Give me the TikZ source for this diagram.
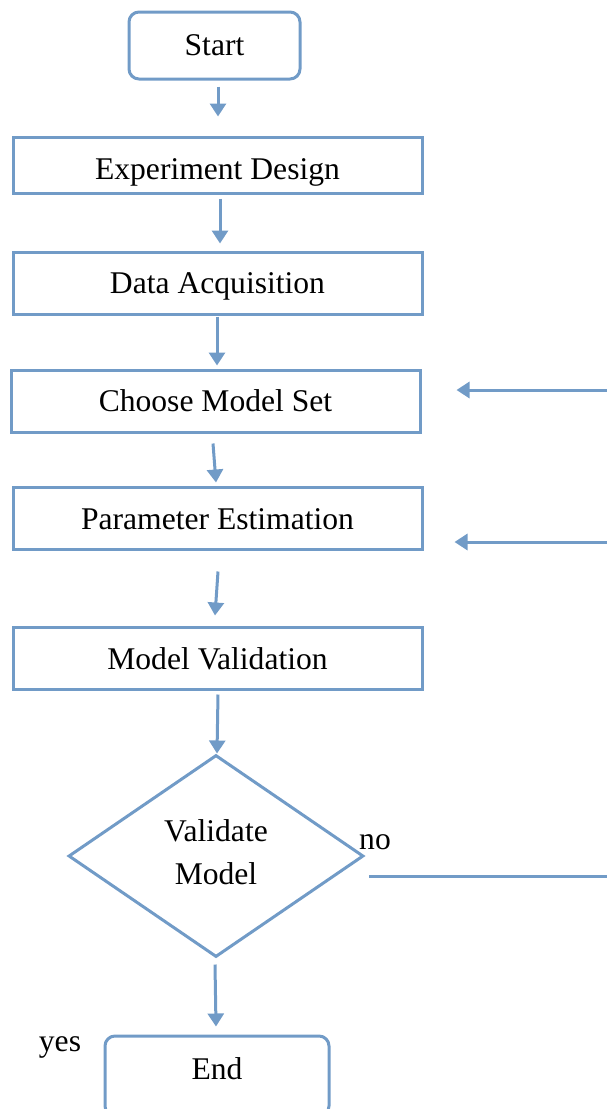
\documentclass[tikz,border=0pt]{standalone}
\usepackage{fontspec}
\setmainfont{Liberation Serif}
\usetikzlibrary{arrows.meta,shapes.geometric}
\definecolor{flowblue}{RGB}{113,155,199}
\begin{document}
\begin{tikzpicture}[x=1pt,y=-1pt,
  every node/.style={font=\fontsize{31.6}{36}\selectfont, text=black},
  procbox/.style={draw=flowblue, line width=3pt, rectangle, inner sep=0pt, minimum width=409pt, minimum height=62pt, text height=22pt, text depth=7pt},
  termbox/.style={draw=flowblue, line width=3pt, rectangle, rounded corners=10pt, inner sep=0pt, text height=22pt, text depth=7pt},
  decbox/.style={draw=flowblue, line width=3pt, diamond, inner sep=0pt, minimum width=295pt, minimum height=202pt, align=center, text height=65pt, text depth=9pt},
  flowarrow/.style={draw=flowblue, line width=3pt, -{Triangle[length=13pt,width=16pt]}},
  flowline/.style={draw=flowblue, line width=3pt},
  plainlabel/.style={inner sep=0pt}
]
\path[use as bounding box] (0,0) rectangle (607,1109);
\clip (0,0) rectangle (607,1109);

\node[termbox, minimum width=171pt, minimum height=67pt] (start) at (214.5,45.5) {\raisebox{-2pt}{Start}};
\node[procbox, minimum height=56pt] (exp) at (217.5,165) {\raisebox{-7pt}{Experiment Design}};
\node[procbox] (data) at (217.5,283) {\raisebox{-3pt}{Data Acquisition}};
\node[procbox] (choose) at (215.5,401) {\raisebox{-2.5pt}{Choose Model Set}};
\node[procbox] (param) at (217.5,518) {\raisebox{-3.5pt}{Parameter Estimation}};
\node[procbox] (modval) at (217.5,658) {\raisebox{-3.5pt}{Model Validation}};
\node[decbox] (valid) at (216,856) {Validate\\[7pt]Model};
\node[termbox, minimum width=224pt, minimum height=80pt] (end) at (217,1076) {\raisebox{4pt}{End}};

\node[plainlabel] (no) at (375,842) {no};
\node[plainlabel] (yes) at (60,1047) {yes};

\coordinate (r1) at (607,390);
\coordinate (r2) at (607,542);
\coordinate (r3) at (607,876);

\draw[flowarrow] ([xshift=3.5pt,yshift=-6pt]start.south) -- ([xshift=0.5pt,yshift=19pt]exp.north);
\draw[flowarrow] ([xshift=2.5pt,yshift=-4pt]exp.south) -- ([xshift=2.5pt,yshift=7pt]data.north);
\draw[flowarrow] ([xshift=-0.5pt,yshift=-1pt]data.south) -- ([xshift=1.5pt,yshift=3pt]choose.north);
\draw[flowarrow] ([xshift=-2.5pt,yshift=-10pt]choose.south) -- ([xshift=-1.5pt,yshift=3pt]param.north);
\draw[flowarrow] ([xshift=0.5pt,yshift=-21pt]param.south) -- ([xshift=-2.5pt,yshift=10pt]modval.north);
\draw[flowarrow] ([xshift=0.5pt,yshift=-4pt]modval.south) -- ([xshift=1pt]valid.north);
\draw[flowarrow] ([xshift=-1pt,yshift=-6pt]valid.south) -- ([xshift=-1pt,yshift=8pt]end.north);

\draw[flowarrow] (r1) -- ([xshift=35pt,yshift=11pt]choose.east);
\draw[flowarrow] (r2) -- ([xshift=31pt,yshift=-24pt]param.east);
\draw[flowline] ([xshift=4pt,yshift=-20pt]valid.east) -- (r3);
\end{tikzpicture}
\end{document}
